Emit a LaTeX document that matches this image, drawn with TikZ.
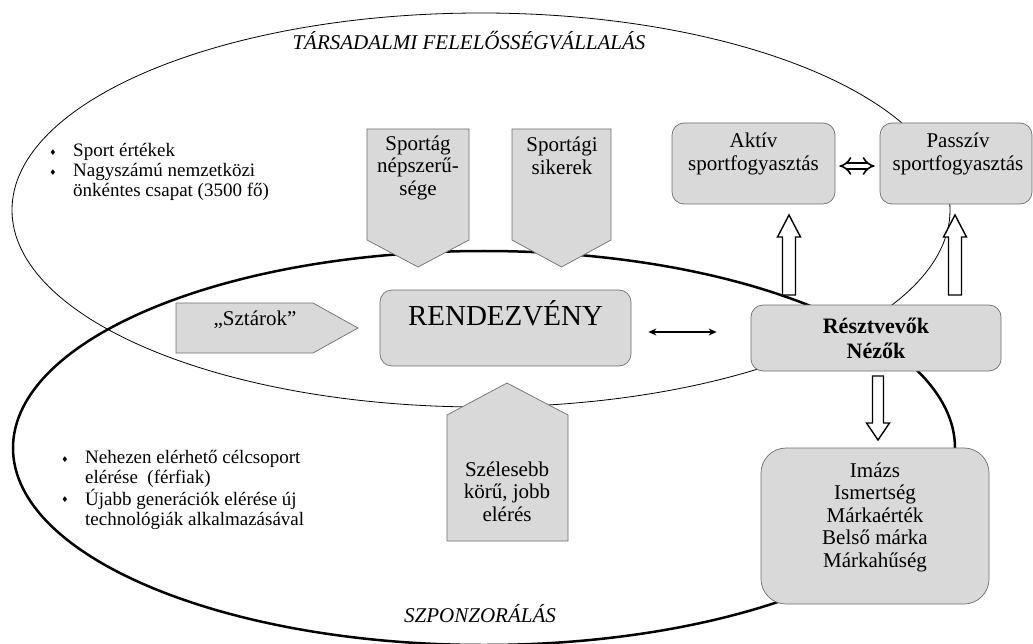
\documentclass[tikz,border=0pt]{standalone}
\usepackage{fontspec}
\setmainfont{Liberation Serif}
\newfontfamily\symfont{DejaVu Sans}
\usetikzlibrary{arrows.meta,calc}
\definecolor{boxfill}{HTML}{D9D9D9}
\definecolor{boxline}{HTML}{6E6E6E}
\begin{document}
\begin{tikzpicture}[x=1pt,y=-1pt,
  box/.style={draw=boxline, fill=boxfill, line width=0.7pt, rounded corners=12pt, inner sep=0pt},
  shapebox/.style={draw=boxline, fill=boxfill, line width=0.7pt},
  txt/.style={align=center, font=\fontsize{21}{22.5}\selectfont, inner sep=0pt},
  bul/.style={align=left, anchor=west, font=\fontsize{19}{20}\selectfont, inner sep=0pt},
  dot/.style={font=\symfont\fontsize{8}{8}\selectfont, inner sep=0pt},
  blockarrow/.style={draw=black, fill=white, line width=1.4pt, line join=miter},
  ttl/.style={font=\fontsize{21}{24}\selectfont\itshape, inner sep=0pt}
]
\useasboundingbox (0,0) rectangle (1033,644);
\fill[white] (0,0) rectangle (1033,644);

% ellipses
\draw[line width=0.8pt] (481,210) ellipse [x radius=469pt, y radius=197pt];
\draw[line width=2.5pt] (484,448) ellipse [x radius=471pt, y radius=197pt];

% titles
\node[ttl] (tfv) at (469,41) {TÁRSADALMI FELELŐSSÉGVÁLLALÁS};
\node[ttl] (szp) at (480,614) {SZPONZORÁLÁS};

% bullets upper
\node[dot] (d1) at (53,153) {♦};
\node[dot] (d2) at (53,173) {♦};
\node[bul] (t1) at (73,152) {Sport értékek};
\node[bul] (t2) at (73,182) {Nagyszámú nemzetközi\\önkéntes csapat (3500 fő)};

% bullets lower
\node[dot] (d3) at (65,460) {♦};
\node[dot] (d4) at (65,500) {♦};
\node[bul] (t3) at (85,468.5) {Nehezen elérhető célcsoport\\elérése\ \ (férfiak)};
\node[bul] (t4) at (85,509) {Újabb generációk elérése új\\technológiák alkalmazásával};

% pentagon shapes
\path[shapebox] (367,129) -- (469,129) -- (469,240) -- (418,267) -- (367,240) -- cycle;
\node[txt] (spn) at (418,167.5) {Sportág\\népszerű-\\sége};
\path[shapebox] (512,129) -- (611,129) -- (611,240) -- (561.5,267) -- (512,240) -- cycle;
\node[txt] (sps) at (562,156) {Sportági\\sikerek};
\path[shapebox] (176,303) -- (313,303) -- (358,328) -- (313,353) -- (176,353) -- cycle;
\node[txt] (szt) at (255,320) {„Sztárok”};
\path[shapebox] (447,541) -- (447,415) -- (507,383) -- (568,415) -- (568,541) -- cycle;
\node[txt] (szel) at (507,491.5) {Szélesebb\\körű, jobb\\elérés};

% rounded boxes
\node[box, minimum width=251pt, minimum height=76pt] (rend) at (505.5,328) {};
\node[inner sep=0pt, font=\fontsize{29}{32}\selectfont] (rendt) at (505.5,313) {RENDEZVÉNY};

\node[box, minimum width=163pt, minimum height=81pt] (akt) at (753.5,163.5) {};
\node[txt] (aktt) at (753.5,154) {Aktív\\sportfogyasztás};

\node[box, minimum width=152pt, minimum height=81pt] (pas) at (956,163.5) {};
\node[txt] (past) at (958,154) {Passzív\\sportfogyasztás};

\node[box, minimum width=250pt, minimum height=66pt] (resz) at (876,338) {};
\node[inner sep=0pt, align=center, font=\fontsize{22}{25}\selectfont\bfseries] (reszt) at (876,338) {Résztvevők\\Nézők};

\node[box, rounded corners=25pt, minimum width=228pt, minimum height=156pt] (imz) at (875,526) {};
\node[txt] (imzt) at (875,517) {Imázs\\Ismertség\\Márkaérték\\Belső márka\\Márkahűség};

% connectors
\draw[line width=1.8pt, {Stealth[length=8pt,width=7pt]}-{Stealth[length=8pt,width=7pt]}, shorten <=17pt, shorten >=34pt]
  (rend.east |- 0,332) -- (resz.west |- 0,332);
\draw[line width=1.6pt, double distance=4.5pt, {Implies[scale=1.3]}-{Implies[scale=1.3]}, shorten <=4pt, shorten >=5pt]
  (akt.east |- 0,166) -- (pas.west |- 0,166);

% block arrows
\draw[blockarrow] (782.5,295) -- (782.5,237) -- (777.5,237) -- (789,215) -- (800.5,237) -- (795.5,237) -- (795.5,295) -- cycle;
\draw[blockarrow] (948.5,295) -- (948.5,237) -- (943.5,237) -- (955,215) -- (966.5,237) -- (961.5,237) -- (961.5,295) -- cycle;
\draw[blockarrow] (872.5,376) -- (872.5,423) -- (866.5,423) -- (878,440) -- (889.5,423) -- (883.5,423) -- (883.5,376) -- cycle;
\end{tikzpicture}
\end{document}
